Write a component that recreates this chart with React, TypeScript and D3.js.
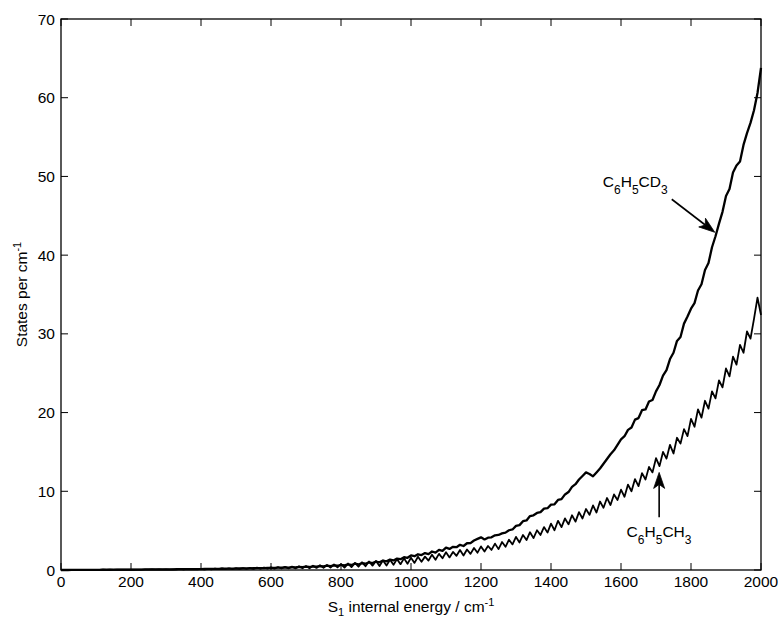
import React from "react";
import * as d3 from "d3";

// Vibrational state density of the S1 state, sampled every 10 cm^-1 from 0 to 2000 cm^-1.
const ENERGY_STEP = 10;
const energies = d3.range(0, 2000 + ENERGY_STEP, ENERGY_STEP);

// C6H5CD3 (states per cm^-1)
const densityCD3 = [
  0.00, 0.00, 0.00, 0.01, 0.01, 0.01, 0.01, 0.01, 0.02, 0.02,
  0.02, 0.02, 0.03, 0.03, 0.03, 0.04, 0.04, 0.04, 0.05, 0.05,
  0.05, 0.06, 0.06, 0.06, 0.07, 0.07, 0.07, 0.08, 0.08, 0.08,
  0.08, 0.09, 0.09, 0.10, 0.10, 0.10, 0.11, 0.11, 0.12, 0.12,
  0.12, 0.13, 0.14, 0.14, 0.15, 0.15, 0.16, 0.17, 0.17, 0.18,
  0.18, 0.19, 0.20, 0.21, 0.21, 0.22, 0.23, 0.24, 0.25, 0.26,
  0.27, 0.28, 0.30, 0.29, 0.32, 0.31, 0.35, 0.33, 0.38, 0.36,
  0.42, 0.38, 0.46, 0.42, 0.50, 0.45, 0.55, 0.50, 0.60, 0.54,
  0.66, 0.58, 0.72, 0.64, 0.80, 0.70, 0.88, 0.80, 0.98, 0.88,
  1.08, 0.98, 1.20, 1.10, 1.32, 1.22, 1.45, 1.38, 1.62, 1.55,
  1.85, 1.75, 2.00, 1.90, 2.15, 2.02, 2.35, 2.20, 2.55, 2.42,
  2.85, 2.68, 2.95, 2.90, 3.20, 3.05, 3.40, 3.42, 3.75, 3.95,
  4.15, 3.88, 4.10, 4.15, 4.40, 4.45, 4.65, 4.75, 5.05, 5.15,
  5.60, 5.70, 6.20, 6.30, 6.85, 6.95, 7.25, 7.35, 7.80, 7.85,
  8.30, 8.35, 8.90, 9.00, 9.60, 9.90, 10.55, 10.90, 11.50, 11.95,
  12.40, 12.20, 11.90, 12.40, 12.90, 13.50, 14.10, 14.70, 15.20, 15.90,
  16.60, 17.00, 17.80, 18.10, 19.10, 19.30, 20.30, 20.40, 21.40, 21.60,
  22.70, 23.50, 24.70, 25.40, 26.80, 27.60, 29.10, 29.60, 31.30, 32.20,
  33.20, 33.90, 35.50, 36.30, 38.10, 39.00, 41.00, 42.40, 44.00, 45.50,
  47.50, 48.40, 50.50, 51.40, 51.90, 54.00, 55.50, 56.80, 58.40, 60.60,
  63.80,
];

// C6H5CH3 (states per cm^-1)
const densityCH3 = [
  0.00, 0.00, 0.01, 0.00, 0.01, 0.01, 0.00, 0.01, 0.02, 0.01,
  0.02, 0.01, 0.03, 0.02, 0.03, 0.02, 0.04, 0.03, 0.04, 0.03,
  0.05, 0.03, 0.05, 0.04, 0.06, 0.04, 0.07, 0.05, 0.07, 0.05,
  0.08, 0.05, 0.09, 0.06, 0.10, 0.06, 0.11, 0.07, 0.12, 0.08,
  0.14, 0.08, 0.15, 0.09, 0.17, 0.10, 0.19, 0.11, 0.21, 0.12,
  0.23, 0.13, 0.25, 0.14, 0.27, 0.15, 0.30, 0.16, 0.32, 0.17,
  0.34, 0.18, 0.37, 0.19, 0.40, 0.20, 0.43, 0.21, 0.46, 0.22,
  0.50, 0.22, 0.55, 0.26, 0.60, 0.28, 0.64, 0.32, 0.70, 0.34,
  0.75, 0.30, 0.82, 0.36, 0.90, 0.42, 0.98, 0.48, 1.08, 0.55,
  1.15, 0.50, 1.22, 0.58, 1.30, 0.66, 1.38, 0.74, 1.48, 0.80,
  1.55, 0.90, 1.68, 1.05, 1.70, 1.20, 1.95, 1.30, 2.05, 1.50,
  2.25, 1.60, 2.30, 1.80, 2.55, 1.85, 2.60, 2.05, 2.80, 2.20,
  3.00, 2.35, 3.05, 2.55, 3.35, 2.65, 3.55, 2.95, 3.85, 3.25,
  4.20, 3.50, 4.45, 3.80, 4.80, 4.05, 5.05, 4.45, 5.45, 4.75,
  5.90, 5.05, 6.25, 5.45, 6.55, 5.80, 6.95, 6.15, 7.35, 6.55,
  7.75, 7.00, 8.20, 7.30, 8.70, 7.90, 9.15, 8.25, 9.60, 8.90,
  10.20, 9.30, 10.85, 10.00, 11.55, 10.65, 12.30, 11.50, 13.10, 12.40,
  14.20, 13.20, 15.00, 14.15, 15.90, 14.80, 16.80, 16.05, 17.90, 17.00,
  19.20, 18.20, 20.40, 19.35, 21.50, 20.50, 22.70, 21.80, 24.10, 23.20,
  25.60, 24.60, 27.10, 26.10, 28.60, 27.60, 30.30, 29.40, 31.90, 34.60,
  32.40,
];

const xTicks = [0, 200, 400, 600, 800, 1000, 1200, 1400, 1600, 1800, 2000];
const yTicks = [0, 10, 20, 30, 40, 50, 60, 70];

type Part = [string, "n" | "sub" | "sup"];

const xTitle: Part[] = [["S", "n"], ["1", "sub"], [" internal energy / cm", "n"], ["-1", "sup"]];
const yTitle: Part[] = [["States per cm", "n"], ["-1", "sup"]];
const labelCD3: Part[] = [["C", "n"], ["6", "sub"], ["H", "n"], ["5", "sub"], ["CD", "n"], ["3", "sub"]];
const labelCH3: Part[] = [["C", "n"], ["6", "sub"], ["H", "n"], ["5", "sub"], ["CH", "n"], ["3", "sub"]];

// Annotation anchors in data units: [energy, density]
const cd3TextAt = [1548, 48.7];
const cd3ArrowFrom = [1745, 47.1];
const cd3ArrowTo = [1868, 42.9];
const ch3TextAt = [1616, 4.25];
const ch3ArrowFrom = [1709, 6.7];
const ch3ArrowTo = [1709, 12.4];

const W = 778;
const H = 619;
const FONT = "'Liberation Sans', Arial, Helvetica, sans-serif";

function renderParts(parts: Part[], base: number, small: number, subDy: number, supDy: number) {
  let level = 0;
  return parts.map(([t, kind], i) => {
    const target = kind === "sub" ? subDy : kind === "sup" ? supDy : 0;
    const dy = target - level;
    level = target;
    return (
      <tspan key={i} dy={dy} fontSize={kind === "n" ? base : small}>
        {t}
      </tspan>
    );
  });
}

function arrowPath(x1: number, y1: number, x2: number, y2: number) {
  const len = Math.hypot(x2 - x1, y2 - y1);
  const ux = (x2 - x1) / len;
  const uy = (y2 - y1) / len;
  const nx = -uy;
  const ny = ux;
  const L = 16;
  const w = 5.5;
  const notch = 4;
  const bx = x2 - L * ux;
  const by = y2 - L * uy;
  const mx = x2 - (L - notch) * ux;
  const my = y2 - (L - notch) * uy;
  return {
    shaft: `M${x1},${y1}L${mx},${my}`,
    head: `M${x2},${y2}L${bx + w * nx},${by + w * ny}L${mx},${my}L${bx - w * nx},${by - w * ny}Z`,
  };
}

export default function App() {
  const left = 61;
  const right = 761;
  const top = 19;
  const bottom = 570;
  const x = d3.scaleLinear().domain([0, 2000]).range([left, right]);
  const y = d3.scaleLinear().domain([0, 70]).range([bottom, top]);
  const tick = 7;

  const line = d3
    .line<number>()
    .x((_, i) => x(energies[i]))
    .y((d) => y(d));

  const a1 = arrowPath(x(cd3ArrowFrom[0]), y(cd3ArrowFrom[1]), x(cd3ArrowTo[0]), y(cd3ArrowTo[1]));
  const a2 = arrowPath(x(ch3ArrowFrom[0]), y(ch3ArrowFrom[1]), x(ch3ArrowTo[0]), y(ch3ArrowTo[1]));

  return (
    <svg
      width={W}
      height={H}
      viewBox={`0 0 ${W} ${H}`}
      style={{ position: "absolute", left: 0, top: 0, background: "#fff" }}
      fontFamily={FONT}
    >
      <rect x={0} y={0} width={W} height={H} fill="#fff" />

      {/* curves */}
      <path d={line(densityCH3) ?? ""} fill="none" stroke="#000" strokeWidth={1.8} strokeLinejoin="round" />
      <path d={line(densityCD3) ?? ""} fill="none" stroke="#000" strokeWidth={2.3} strokeLinejoin="round" />

      {/* frame and inward ticks on all four sides */}
      <rect x={left} y={top} width={right - left} height={bottom - top} fill="none" stroke="#000" strokeWidth={1.3} />
      {xTicks.map((t) => (
        <g key={`x${t}`}>
          <line x1={x(t)} x2={x(t)} y1={bottom} y2={bottom - tick} stroke="#000" strokeWidth={1} />
          <line x1={x(t)} x2={x(t)} y1={top} y2={top + tick} stroke="#000" strokeWidth={1} />
          <text x={x(t)} y={587} textAnchor="middle" fontSize={15.5} fill="#000">
            {t}
          </text>
        </g>
      ))}
      {yTicks.map((t) => (
        <g key={`y${t}`}>
          <line x1={left} x2={left + tick} y1={y(t)} y2={y(t)} stroke="#000" strokeWidth={1} />
          <line x1={right} x2={right - tick} y1={y(t)} y2={y(t)} stroke="#000" strokeWidth={1} />
          <text x={55} y={y(t) + 5.5} textAnchor="end" fontSize={15.5} fill="#000">
            {t}
          </text>
        </g>
      ))}

      {/* axis titles */}
      <text x={(left + right) / 2} y={612} textAnchor="middle" fill="#000">
        {renderParts(xTitle, 15.5, 11, 4, -6)}
      </text>
      <text transform={`translate(26.5,${(top + bottom) / 2}) rotate(-90)`} textAnchor="middle" fill="#000">
        {renderParts(yTitle, 15.5, 11, 4, -6)}
      </text>

      {/* annotations */}
      <text x={x(cd3TextAt[0])} y={y(cd3TextAt[1])} fill="#000">
        {renderParts(labelCD3, 15.5, 12, 7, -6)}
      </text>
      <path d={a1.shaft} stroke="#000" strokeWidth={1.6} fill="none" />
      <path d={a1.head} fill="#000" stroke="#000" strokeWidth={0.8} strokeLinejoin="miter" />

      <text x={x(ch3TextAt[0])} y={y(ch3TextAt[1])} fill="#000">
        {renderParts(labelCH3, 15.5, 12, 7, -6)}
      </text>
      <path d={a2.shaft} stroke="#000" strokeWidth={1.6} fill="none" />
      <path d={a2.head} fill="#000" stroke="#000" strokeWidth={0.8} strokeLinejoin="miter" />
    </svg>
  );
}
